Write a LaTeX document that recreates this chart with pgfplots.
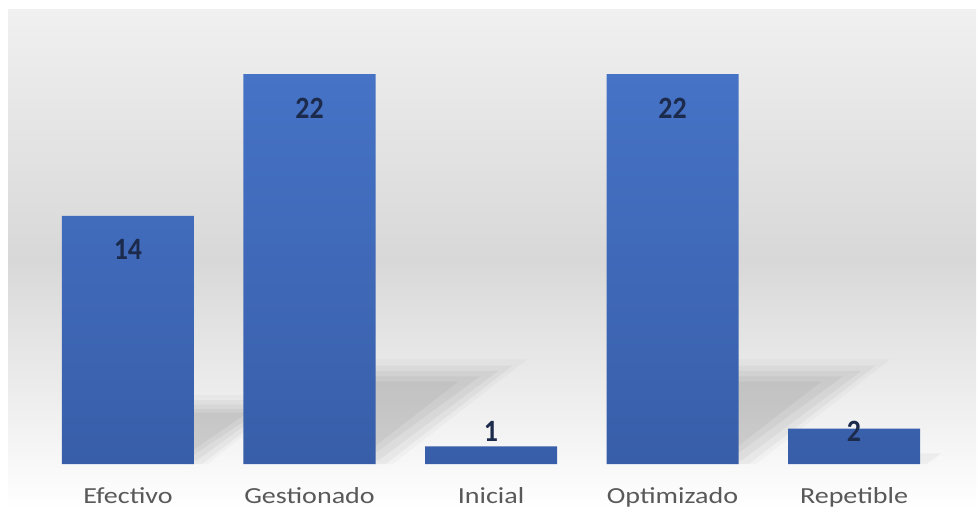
\documentclass[border=0pt]{standalone}
\usepackage{pgfplots}
\pgfplotsset{compat=1.18}
\usepackage{pgfplotstable}
\usepackage{graphicx}
\usepackage{fontspec}
\setmainfont{Carlito}
\definecolor{barTop}{HTML}{4673C6}
\definecolor{barBot}{HTML}{385EA9}
\definecolor{bgTop}{HTML}{F0F0F0}
\definecolor{bgMid}{HTML}{D8D8D8}
\definecolor{lblCol}{HTML}{1C2A4C}
\definecolor{tickCol}{HTML}{595959}
\pgfplotstableread{
x y off
0 14 -22
1 22 -22
2 1 2.5
3 22 -22
4 2 -6.5
}\datatable
\begin{document}
\begin{tikzpicture}
\path[use as bounding box] (0,0) rectangle (488.5pt,255pt);
\shade[top color=bgTop, bottom color=white, middle color=bgMid] (4pt,0) rectangle (488pt,250pt);
\begin{axis}[
  at={(4pt,23pt)}, anchor=south west,
  scale only axis, width=484pt, height=227pt,
  xmin=-0.661, xmax=4.672, ymin=0, ymax=25.61,
  clip=false,
  axis line style={draw=none},
  tick style={draw=none},
  ytick=\empty,
  xtick={0,1,2,3,4},
  xticklabels={\scalebox{1.22}[1]{Efectivo},\scalebox{1.22}[1]{Gestionado},\scalebox{1.22}[1]{Inicial},\scalebox{1.22}[1]{Optimizado},\scalebox{1.22}[1]{Repetible}},
  xticklabel style={anchor=base, yshift=-19.5pt, font=\fontsize{11.5}{13}\selectfont, text=tickCol},
  /pgf/number format/assume math mode=true,
]
% soft perspective shadows (decorative)
\fill[black, opacity=0.025] (axis cs:0.30,0) -- (axis cs:0.44,0) -- (axis cs:0.92,3.9) -- (axis cs:0.30,3.9) -- cycle;
\fill[black, opacity=0.035] (axis cs:0.32,0) -- (axis cs:0.41,0) -- (axis cs:0.86,3.6) -- (axis cs:0.32,3.6) -- cycle;
\fill[black, opacity=0.04] (axis cs:0.33,0.2) -- (axis cs:0.38,0.2) -- (axis cs:0.80,3.35) -- (axis cs:0.33,3.35) -- cycle;
\fill[black, opacity=0.04] (axis cs:0.33,0.5) -- (axis cs:0.36,0.5) -- (axis cs:0.74,3.1) -- (axis cs:0.33,3.1) -- cycle;
\fill[black, opacity=0.04] (axis cs:0.33,0.8) -- (axis cs:0.36,0.8) -- (axis cs:0.66,2.9) -- (axis cs:0.33,2.9) -- cycle;
%
\fill[black, opacity=0.025] (axis cs:1.30,0) -- (axis cs:1.46,0) -- (axis cs:2.20,5.9) -- (axis cs:1.30,5.9) -- cycle;
\fill[black, opacity=0.035] (axis cs:1.32,0) -- (axis cs:1.42,0) -- (axis cs:2.12,5.55) -- (axis cs:1.32,5.55) -- cycle;
\fill[black, opacity=0.04] (axis cs:1.33,0.2) -- (axis cs:1.38,0.2) -- (axis cs:2.04,5.25) -- (axis cs:1.33,5.25) -- cycle;
\fill[black, opacity=0.04] (axis cs:1.33,0.6) -- (axis cs:1.36,0.6) -- (axis cs:1.94,4.95) -- (axis cs:1.33,4.95) -- cycle;
\fill[black, opacity=0.04] (axis cs:1.33,1.0) -- (axis cs:1.36,1.0) -- (axis cs:1.82,4.65) -- (axis cs:1.33,4.65) -- cycle;
%
\fill[black, opacity=0.025] (axis cs:3.30,0) -- (axis cs:3.46,0) -- (axis cs:4.20,5.9) -- (axis cs:3.30,5.9) -- cycle;
\fill[black, opacity=0.035] (axis cs:3.32,0) -- (axis cs:3.42,0) -- (axis cs:4.12,5.55) -- (axis cs:3.32,5.55) -- cycle;
\fill[black, opacity=0.04] (axis cs:3.33,0.2) -- (axis cs:3.38,0.2) -- (axis cs:4.04,5.25) -- (axis cs:3.33,5.25) -- cycle;
\fill[black, opacity=0.04] (axis cs:3.33,0.6) -- (axis cs:3.36,0.6) -- (axis cs:3.94,4.95) -- (axis cs:3.33,4.95) -- cycle;
\fill[black, opacity=0.04] (axis cs:3.33,1.0) -- (axis cs:3.36,1.0) -- (axis cs:3.82,4.65) -- (axis cs:3.33,4.65) -- cycle;
%
\fill[black, opacity=0.04] (axis cs:4.33,0) -- (axis cs:4.40,0) -- (axis cs:4.48,0.6) -- (axis cs:4.33,0.6) -- cycle;
\addplot[ybar, bar width=66pt, draw=none, top color=barTop, bottom color=barBot,
  nodes near coords={\scalebox{0.9}[1]{\pgfmathprintnumber{\pgfplotspointmeta}}},
  visualization depends on={\thisrow{off} \as \off},
  every node near coord/.append style={anchor=base, yshift=\off pt, inner sep=0pt,
    font=\fontsize{15.5}{18}\selectfont\bfseries, text=lblCol},
] table[x=x, y=y] {\datatable};
\end{axis}
\end{tikzpicture}
\end{document}
